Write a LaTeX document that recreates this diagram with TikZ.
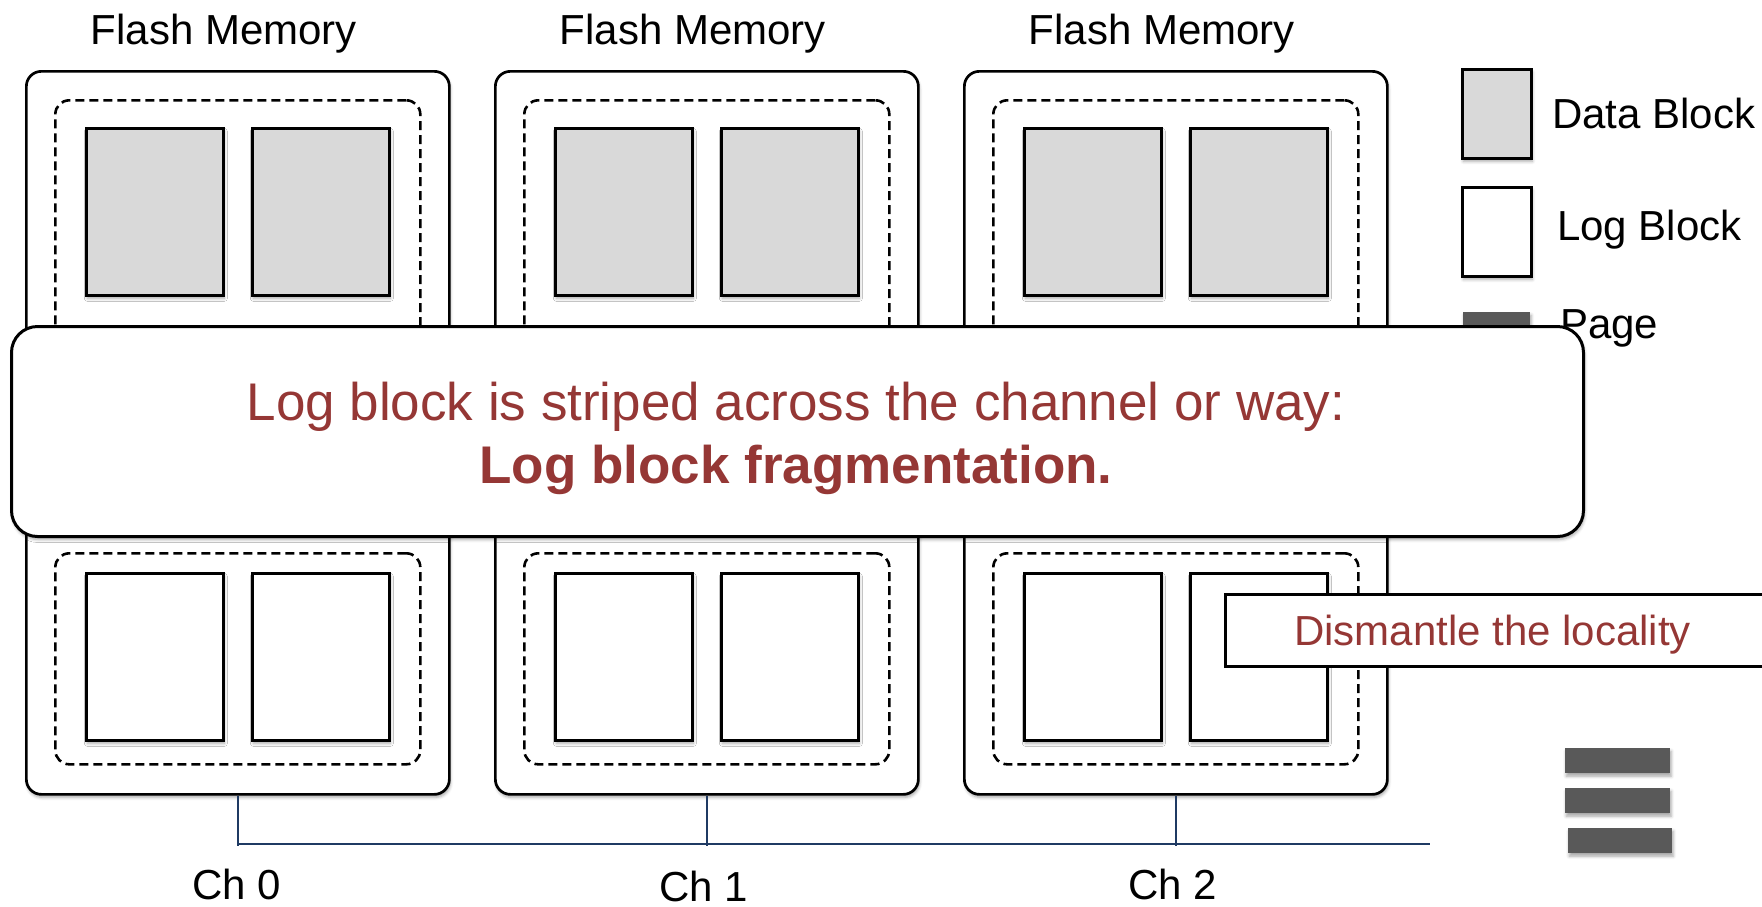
\documentclass[tikz,border=0pt]{standalone}
\usepackage{fontspec}
\setmainfont{Liberation Sans}
\usetikzlibrary{shadows.blur}

\definecolor{blockgray}{HTML}{D9D9D9}
\definecolor{pagegray}{HTML}{595959}
\definecolor{notered}{HTML}{953735}
\definecolor{busblue}{HTML}{1F3A63}

\tikzset{
  softshadow/.style={blur shadow={shadow xshift=1pt, shadow yshift=-3pt,
      shadow blur radius=3pt, shadow opacity=35}},
  chipbox/.style={draw, line width=2.7pt, rounded corners=15pt, fill=white,
      softshadow, minimum width=423pt, minimum height=723pt,
      anchor=north west, inner sep=0pt},
  grpbox/.style={draw, dash pattern=on 9pt off 5pt, line width=2.6pt,
      rounded corners=14pt, minimum width=365pt, anchor=north west, inner sep=0pt},
  blk/.style={draw, line width=2.7pt, softshadow, minimum width=137pt,
      minimum height=167pt, anchor=north west, inner sep=0pt},
  datablk/.style={blk, fill=blockgray},
  logblk/.style={blk, fill=white},
  pagebar/.style={fill=pagegray, softshadow, minimum height=25pt,
      anchor=north west, inner sep=0pt},
  lbl/.style={font=\fontsize{42}{50}\selectfont, inner sep=0pt},
  notetxt/.style={font=\fontsize{53}{63}\selectfont, text=notered, inner sep=0pt, anchor=base},
  bus/.style={draw=busblue, line width=2.5pt},
}

\begin{document}
\begin{tikzpicture}[x=1pt, y=-1pt]
\useasboundingbox (0,0) rectangle (1762,906);
\clip (0,0) rectangle (1762,906);

% three flash memory chips, each with a data-block group and a log-block group
\foreach \i/\x in {0/25, 1/494, 2/963} {
  \node[chipbox] (chip\i) at (\x,70) {};
  \node[lbl, anchor=base] (fm\i) at (\x+199,44) {Flash Memory};
  \node[grpbox, minimum height=401pt] (ugrp\i) at (\x+29,99) {};
  \node[grpbox, minimum height=211pt] (lgrp\i) at (\x+29,552) {};
  \node[datablk] (dA\i) at (\x+60,127) {};
  \node[datablk] (dB\i) at (\x+226,127) {};
  \node[logblk] (lA\i) at (\x+60,572) {};
  \node[logblk] (lB\i) at (\x+226,572) {};
}

% channel bus
\coordinate (busend) at (1430,844);
\foreach \i in {0,1,2}
  \draw[bus] (chip\i.south) -- ([yshift=-1.5pt]chip\i.south |- busend);
\draw[bus] (chip0.south |- busend) -- (busend);

\node[lbl, anchor=base] (ch0) at (237,899) {Ch 0};
\node[lbl, anchor=base] (ch1) at (704,901) {Ch 1};
\node[lbl, anchor=base] (ch2) at (1173,899) {Ch 2};

% legend
\node[datablk, minimum width=69pt, minimum height=89pt] (legdata) at (1461,68) {};
\node[logblk, minimum width=69pt, minimum height=89pt] (leglog) at (1461,186) {};
\node[pagebar, minimum width=67pt] (legpage) at (1463,312) {};
\node[lbl, anchor=base west] (legdatatxt) at (1552,128) {Data Block};
\node[lbl, anchor=base west] (leglogtxt) at (1557,240) {Log Block};
\node[lbl, anchor=base west] (legpagetxt) at (1560,338) {Page};

% pages
\node[pagebar, minimum width=105pt] (pg1) at (1565,748) {};
\node[pagebar, minimum width=105pt] (pg2) at (1565,788) {};
\node[pagebar, minimum width=104pt] (pg3) at (1568,828) {};

% callout
\node[draw, line width=3pt, rounded corners=26pt, fill=white, softshadow,
      minimum width=1572pt, minimum height=210pt, anchor=north west,
      inner sep=0pt] (note) at (10,325) {};
\node[notetxt] (note1) at (796,420) {Log block is striped across the channel or way:};
\node[notetxt] (note2) at (796,483) {\textbf{Log block fragmentation.}};

% locality remark
\node[draw, line width=2.7pt, fill=white, minimum width=600pt, minimum height=72pt,
      anchor=north west, inner sep=0pt] (dism) at (1224,593) {};
\node[lbl, anchor=base west, text=notered] (dismtxt) at (1294,645) {Dismantle the locality};
\end{tikzpicture}
\end{document}
